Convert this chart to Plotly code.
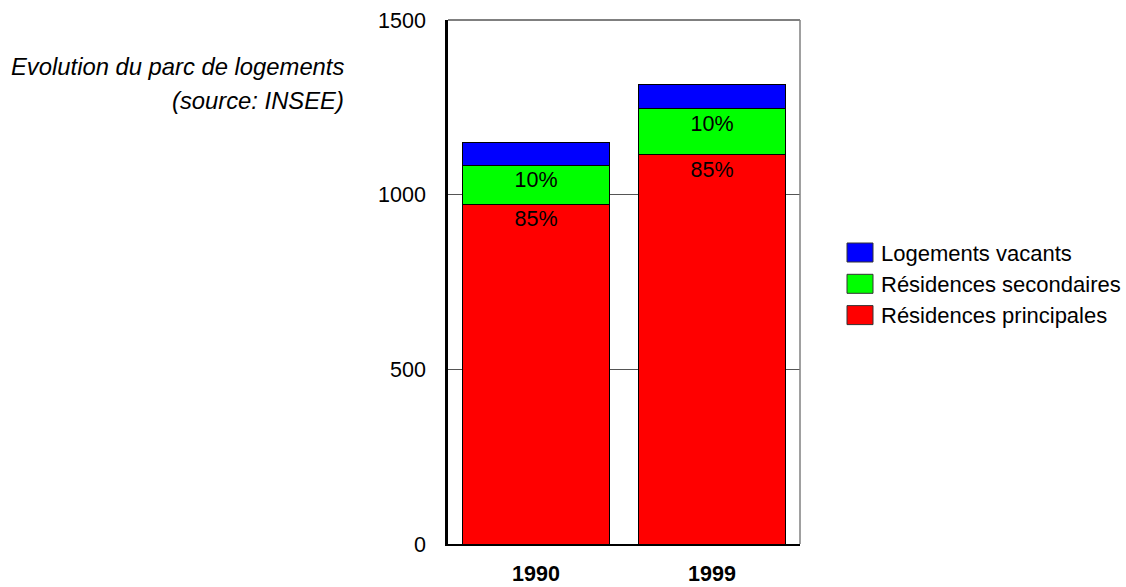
import plotly.graph_objects as go

# Housing stock by year (thousands of dwellings)
years = ["1990", "1999"]
residences_principales = [972, 1114]
residences_secondaires = [112, 132]
logements_vacants = [64, 70]

series_names = ["Résidences principales", "Résidences secondaires", "Logements vacants"]
series_values = [residences_principales, residences_secondaires, logements_vacants]
series_colors = ["#ff0000", "#00ff00", "#0000ff"]
series_show_share = [True, True, False]

y_ticks = [0, 500, 1000, 1500]

FONT = "Liberation Sans, Arial, Helvetica, sans-serif"

W, H = 1126, 587
L, R, T, B = 448, 326, 20, 43
plot_w = W - L - R
plot_h = H - T - B

totals = [sum(v[i] for v in series_values) for i in range(len(years))]

fig = go.Figure()
for name, vals, color, show in zip(series_names, series_values, series_colors, series_show_share):
    labels = [f"{round(100 * v / t)}%" for v, t in zip(vals, totals)] if show else None
    fig.add_trace(go.Bar(
        x=years, y=vals, name=name,
        marker=dict(color=color, line=dict(color="black", width=1)),
        text=labels,
        textposition="inside" if show else "none",
        insidetextanchor="end",
        textangle=0,
        textfont=dict(family=FONT, size=21.5, color="black"),
        showlegend=False,
        hoverinfo="x+y+name",
    ))


def px_x(px):
    return (px - L) / plot_w


def px_y(py):
    return (H - B - py) / plot_h


shapes = [
    # top and right frame edges
    dict(type="line", xref="paper", yref="paper", x0=0, x1=1, y0=1, y1=1,
         line=dict(color="black", width=1)),
    dict(type="line", xref="paper", yref="paper", x0=1, x1=1, y0=0, y1=1,
         line=dict(color="#808080", width=1.5)),
]
annotations = [
    dict(text="<i>Evolution du parc de logements</i>", xref="paper", yref="paper",
         x=px_x(346), y=px_y(67), xanchor="right", yanchor="middle", showarrow=False,
         font=dict(family=FONT, size=23.8, color="black")),
    dict(text="<i>(source: INSEE)</i>", xref="paper", yref="paper",
         x=px_x(346), y=px_y(100), xanchor="right", yanchor="middle", showarrow=False,
         font=dict(family=FONT, size=23.8, color="black")),
]

# legend, top row first (reverse of stacking order)
legend_rows = list(zip(series_names, series_colors))[::-1]
row_top, row_step, sw_w, sw_h = 243, 31.3, 26, 19
for i, (name, color) in enumerate(legend_rows):
    y0 = row_top + i * row_step
    shapes.append(dict(type="rect", xref="paper", yref="paper",
                       x0=px_x(847), x1=px_x(847 + sw_w), y0=px_y(y0 + sw_h), y1=px_y(y0),
                       fillcolor=color, line=dict(color="#333333", width=1)))
    annotations.append(dict(text=name, xref="paper", yref="paper",
                            x=px_x(879), y=px_y(y0 + sw_h / 2 + 0.5), xanchor="left", yanchor="middle",
                            showarrow=False, font=dict(family=FONT, size=22, color="black")))

fig.update_layout(
    width=W, height=H,
    margin=dict(l=L, r=R, t=T, b=B, pad=0),
    paper_bgcolor="white", plot_bgcolor="white",
    barmode="stack", bargap=0.17,
    font=dict(family=FONT, size=21.5, color="black"),
    shapes=shapes, annotations=annotations,
    showlegend=False,
    uniformtext=dict(minsize=8, mode="show"),
)
fig.update_xaxes(
    automargin=False,
    showline=True, linecolor="black", linewidth=2,
    showgrid=False, ticks="", ticklabelstandoff=9,
    tickfont=dict(family=FONT, size=21.5, color="black", weight="bold"),
)
fig.update_yaxes(
    automargin=False,
    range=[0, 1500], tickvals=y_ticks,
    showline=True, linecolor="black", linewidth=2.5,
    showgrid=True, gridcolor="#555555", gridwidth=1,
    zeroline=False, ticks="", ticklabelstandoff=15,
    tickfont=dict(family=FONT, size=21.5, color="black"),
)

fig.write_html("out.html")
